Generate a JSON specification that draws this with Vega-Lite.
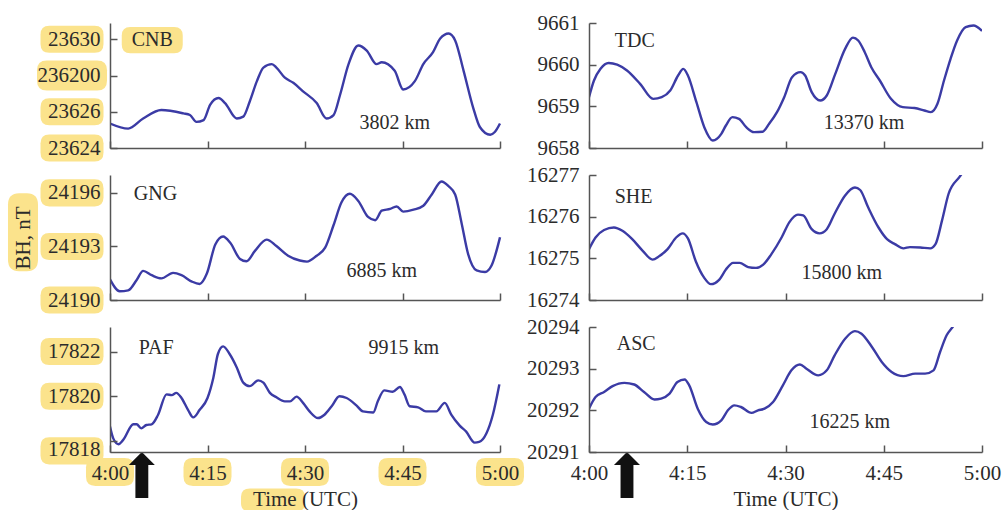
{
  "$schema": "https://vega.github.io/schema/vega-lite/v6.json",
  "background": "white",
  "padding": {"left": 7, "top": 12, "right": 5, "bottom": 0},
  "columns": 2,
  "bounds": "flush",
  "spacing": 27,
  "config": {
    "view": {"stroke": null},
    "axis": {"domainColor": "#555", "domainWidth": 1.5, "tickColor": "#555", "tickWidth": 1.5, "tickSize": -7, "labelFont": "Liberation Serif", "labelFontSize": 21, "labelColor": "#2b2b2b", "labelPadding": 17, "grid": false, "titleFont": "Liberation Serif", "titleFontSize": 21, "titleFontWeight": "normal", "titleColor": "#2b2b2b", "labelOverlap": false, "labelFlush": false},
    "text": {"font": "Liberation Serif"}
  },
  "datasets": {
    "d": [
      {"s":"CNB","t":0,"v":23625.35},{"s":"CNB","t":2.8,"v":23625.07},{"s":"CNB","t":5.1,"v":23625.63},{"s":"CNB","t":7.9,"v":23626.1},{"s":"CNB","t":11.3,"v":23625.91},{"s":"CNB","t":12.3,"v":23625.82},{"s":"CNB","t":13.3,"v":23625.44},{"s":"CNB","t":14.4,"v":23625.54},{"s":"CNB","t":15.4,"v":23626.38},{"s":"CNB","t":16.7,"v":23626.76},{"s":"CNB","t":17.7,"v":23626.48},{"s":"CNB","t":19.5,"v":23625.63},{"s":"CNB","t":20.5,"v":23625.73},{"s":"CNB","t":21.5,"v":23626.57},{"s":"CNB","t":22.6,"v":23627.69},{"s":"CNB","t":23.6,"v":23628.44},{"s":"CNB","t":24.9,"v":23628.63},{"s":"CNB","t":25.6,"v":23628.44},{"s":"CNB","t":26.9,"v":23627.88},{"s":"CNB","t":28.2,"v":23627.6},{"s":"CNB","t":29.7,"v":23627.13},{"s":"CNB","t":31.8,"v":23626.48},{"s":"CNB","t":33.3,"v":23625.63},{"s":"CNB","t":34.4,"v":23625.82},{"s":"CNB","t":35.4,"v":23626.94},{"s":"CNB","t":36.7,"v":23628.63},{"s":"CNB","t":38.2,"v":23629.66},{"s":"CNB","t":39.5,"v":23629.38},{"s":"CNB","t":41.0,"v":23628.63},{"s":"CNB","t":41.8,"v":23628.73},{"s":"CNB","t":43.8,"v":23628.26},{"s":"CNB","t":45.1,"v":23627.23},{"s":"CNB","t":46.9,"v":23627.69},{"s":"CNB","t":48.2,"v":23628.63},{"s":"CNB","t":49.7,"v":23629.29},{"s":"CNB","t":50.8,"v":23630.04},{"s":"CNB","t":52.1,"v":23630.32},{"s":"CNB","t":53.1,"v":23629.94},{"s":"CNB","t":54.4,"v":23628.26},{"s":"CNB","t":55.9,"v":23626.19},{"s":"CNB","t":56.9,"v":23625.16},{"s":"CNB","t":58.5,"v":23624.73},{"s":"CNB","t":59.2,"v":23624.88},{"s":"CNB","t":60,"v":23625.35},
      {"s":"GNG","t":0,"v":24191.16},{"s":"GNG","t":1.5,"v":24190.49},{"s":"GNG","t":2.8,"v":24190.54},{"s":"GNG","t":4.1,"v":24191.12},{"s":"GNG","t":5.1,"v":24191.63},{"s":"GNG","t":6.4,"v":24191.39},{"s":"GNG","t":7.9,"v":24191.21},{"s":"GNG","t":9.7,"v":24191.52},{"s":"GNG","t":11.0,"v":24191.39},{"s":"GNG","t":12.6,"v":24191.03},{"s":"GNG","t":13.8,"v":24190.9},{"s":"GNG","t":14.9,"v":24191.48},{"s":"GNG","t":16.2,"v":24193.11},{"s":"GNG","t":17.4,"v":24193.56},{"s":"GNG","t":18.5,"v":24193.2},{"s":"GNG","t":20.0,"v":24192.3},{"s":"GNG","t":21.0,"v":24192.17},{"s":"GNG","t":22.3,"v":24192.75},{"s":"GNG","t":24.1,"v":24193.38},{"s":"GNG","t":25.6,"v":24193.02},{"s":"GNG","t":27.4,"v":24192.48},{"s":"GNG","t":29.2,"v":24192.21},{"s":"GNG","t":30.3,"v":24192.15},{"s":"GNG","t":31.8,"v":24192.48},{"s":"GNG","t":33.1,"v":24192.93},{"s":"GNG","t":34.4,"v":24194.2},{"s":"GNG","t":35.6,"v":24195.46},{"s":"GNG","t":36.9,"v":24195.95},{"s":"GNG","t":38.2,"v":24195.55},{"s":"GNG","t":39.7,"v":24194.65},{"s":"GNG","t":40.8,"v":24194.47},{"s":"GNG","t":41.8,"v":24195.0},{"s":"GNG","t":43.1,"v":24195.1},{"s":"GNG","t":44.1,"v":24195.24},{"s":"GNG","t":45.1,"v":24194.95},{"s":"GNG","t":46.7,"v":24195.06},{"s":"GNG","t":48.2,"v":24195.28},{"s":"GNG","t":49.5,"v":24195.91},{"s":"GNG","t":51.0,"v":24196.64},{"s":"GNG","t":52.1,"v":24196.37},{"s":"GNG","t":53.1,"v":24195.91},{"s":"GNG","t":54.1,"v":24194.29},{"s":"GNG","t":55.1,"v":24192.57},{"s":"GNG","t":56.4,"v":24191.66},{"s":"GNG","t":57.7,"v":24191.57},{"s":"GNG","t":58.7,"v":24191.93},{"s":"GNG","t":60,"v":24193.51},
      {"s":"PAF","t":0,"v":17818.64},{"s":"PAF","t":0.5,"v":17818.11},{"s":"PAF","t":1.3,"v":17817.85},{"s":"PAF","t":2.0,"v":17818.03},{"s":"PAF","t":3.6,"v":17818.74},{"s":"PAF","t":4.1,"v":17818.74},{"s":"PAF","t":4.8,"v":17818.56},{"s":"PAF","t":5.6,"v":17818.71},{"s":"PAF","t":6.4,"v":17818.74},{"s":"PAF","t":7.4,"v":17819.17},{"s":"PAF","t":8.7,"v":17820.08},{"s":"PAF","t":9.5,"v":17820.05},{"s":"PAF","t":10.2,"v":17820.15},{"s":"PAF","t":11.0,"v":17819.92},{"s":"PAF","t":12.0,"v":17819.39},{"s":"PAF","t":12.8,"v":17819.05},{"s":"PAF","t":13.8,"v":17819.39},{"s":"PAF","t":15.0,"v":17819.92},{"s":"PAF","t":15.9,"v":17820.83},{"s":"PAF","t":16.6,"v":17821.89},{"s":"PAF","t":17.4,"v":17822.23},{"s":"PAF","t":18.4,"v":17821.89},{"s":"PAF","t":19.5,"v":17821.29},{"s":"PAF","t":20.5,"v":17820.61},{"s":"PAF","t":21.5,"v":17820.45},{"s":"PAF","t":22.8,"v":17820.71},{"s":"PAF","t":23.6,"v":17820.61},{"s":"PAF","t":24.6,"v":17820.15},{"s":"PAF","t":25.6,"v":17819.95},{"s":"PAF","t":26.9,"v":17819.77},{"s":"PAF","t":27.7,"v":17819.77},{"s":"PAF","t":28.7,"v":17819.98},{"s":"PAF","t":29.7,"v":17819.7},{"s":"PAF","t":30.7,"v":17819.32},{"s":"PAF","t":32.0,"v":17819.02},{"s":"PAF","t":33.0,"v":17819.17},{"s":"PAF","t":34.1,"v":17819.55},{"s":"PAF","t":35.3,"v":17820.0},{"s":"PAF","t":36.4,"v":17819.92},{"s":"PAF","t":37.9,"v":17819.59},{"s":"PAF","t":38.9,"v":17819.32},{"s":"PAF","t":40.5,"v":17819.27},{"s":"PAF","t":41.2,"v":17819.77},{"s":"PAF","t":42.2,"v":17820.26},{"s":"PAF","t":43.5,"v":17820.2},{"s":"PAF","t":44.6,"v":17820.41},{"s":"PAF","t":45.3,"v":17820.08},{"s":"PAF","t":46.1,"v":17819.55},{"s":"PAF","t":47.4,"v":17819.5},{"s":"PAF","t":48.6,"v":17819.32},{"s":"PAF","t":50.2,"v":17819.32},{"s":"PAF","t":51.5,"v":17819.7},{"s":"PAF","t":52.5,"v":17819.17},{"s":"PAF","t":53.8,"v":17818.68},{"s":"PAF","t":54.8,"v":17818.41},{"s":"PAF","t":56.1,"v":17817.92},{"s":"PAF","t":56.8,"v":17817.95},{"s":"PAF","t":57.9,"v":17818.33},{"s":"PAF","t":58.9,"v":17819.17},{"s":"PAF","t":59.9,"v":17820.53},
      {"s":"TDC","t":0,"v":9659.22},{"s":"TDC","t":0.76,"v":9659.62},{"s":"TDC","t":1.76,"v":9659.9},{"s":"TDC","t":3.0,"v":9660.04},{"s":"TDC","t":4.3,"v":9660.0},{"s":"TDC","t":5.8,"v":9659.86},{"s":"TDC","t":7.8,"v":9659.54},{"s":"TDC","t":9.8,"v":9659.18},{"s":"TDC","t":11.1,"v":9659.22},{"s":"TDC","t":12.4,"v":9659.38},{"s":"TDC","t":13.6,"v":9659.74},{"s":"TDC","t":14.4,"v":9659.9},{"s":"TDC","t":15.1,"v":9659.74},{"s":"TDC","t":16.4,"v":9659.1},{"s":"TDC","t":17.6,"v":9658.5},{"s":"TDC","t":18.9,"v":9658.18},{"s":"TDC","t":20.2,"v":9658.34},{"s":"TDC","t":20.9,"v":9658.54},{"s":"TDC","t":21.9,"v":9658.74},{"s":"TDC","t":22.9,"v":9658.7},{"s":"TDC","t":24.0,"v":9658.5},{"s":"TDC","t":25.2,"v":9658.38},{"s":"TDC","t":26.5,"v":9658.39},{"s":"TDC","t":27.5,"v":9658.58},{"s":"TDC","t":28.7,"v":9658.86},{"s":"TDC","t":29.8,"v":9659.22},{"s":"TDC","t":31.0,"v":9659.7},{"s":"TDC","t":32.3,"v":9659.82},{"s":"TDC","t":33.0,"v":9659.74},{"s":"TDC","t":34.0,"v":9659.34},{"s":"TDC","t":35.3,"v":9659.14},{"s":"TDC","t":36.3,"v":9659.26},{"s":"TDC","t":37.6,"v":9659.78},{"s":"TDC","t":39.1,"v":9660.38},{"s":"TDC","t":40.3,"v":9660.65},{"s":"TDC","t":41.1,"v":9660.58},{"s":"TDC","t":42.1,"v":9660.3},{"s":"TDC","t":43.1,"v":9659.94},{"s":"TDC","t":44.4,"v":9659.62},{"s":"TDC","t":46.1,"v":9659.18},{"s":"TDC","t":47.9,"v":9658.98},{"s":"TDC","t":49.7,"v":9658.96},{"s":"TDC","t":51.2,"v":9658.9},{"s":"TDC","t":52.2,"v":9658.86},{"s":"TDC","t":53.2,"v":9659.06},{"s":"TDC","t":54.2,"v":9659.62},{"s":"TDC","t":55.2,"v":9660.14},{"s":"TDC","t":56.2,"v":9660.58},{"s":"TDC","t":57.5,"v":9660.9},{"s":"TDC","t":58.7,"v":9660.94},{"s":"TDC","t":60,"v":9660.81},
      {"s":"SHE","t":0,"v":16275.22},{"s":"SHE","t":1.0,"v":16275.5},{"s":"SHE","t":2.3,"v":16275.68},{"s":"SHE","t":3.8,"v":16275.74},{"s":"SHE","t":5.1,"v":16275.66},{"s":"SHE","t":6.6,"v":16275.46},{"s":"SHE","t":8.2,"v":16275.18},{"s":"SHE","t":9.7,"v":16274.97},{"s":"SHE","t":10.7,"v":16275.05},{"s":"SHE","t":12.0,"v":16275.22},{"s":"SHE","t":13.3,"v":16275.5},{"s":"SHE","t":14.3,"v":16275.6},{"s":"SHE","t":15.1,"v":16275.48},{"s":"SHE","t":16.3,"v":16274.93},{"s":"SHE","t":17.6,"v":16274.53},{"s":"SHE","t":18.6,"v":16274.38},{"s":"SHE","t":19.9,"v":16274.49},{"s":"SHE","t":20.9,"v":16274.73},{"s":"SHE","t":22.0,"v":16274.89},{"s":"SHE","t":23.0,"v":16274.89},{"s":"SHE","t":24.3,"v":16274.79},{"s":"SHE","t":25.5,"v":16274.77},{"s":"SHE","t":26.6,"v":16274.85},{"s":"SHE","t":27.8,"v":16275.09},{"s":"SHE","t":29.4,"v":16275.5},{"s":"SHE","t":30.6,"v":16275.87},{"s":"SHE","t":31.9,"v":16276.05},{"s":"SHE","t":32.7,"v":16276.03},{"s":"SHE","t":34.0,"v":16275.7},{"s":"SHE","t":35.2,"v":16275.6},{"s":"SHE","t":36.3,"v":16275.7},{"s":"SHE","t":37.5,"v":16276.07},{"s":"SHE","t":39.1,"v":16276.51},{"s":"SHE","t":40.6,"v":16276.7},{"s":"SHE","t":41.4,"v":16276.64},{"s":"SHE","t":42.6,"v":16276.23},{"s":"SHE","t":44.2,"v":16275.74},{"s":"SHE","t":45.5,"v":16275.46},{"s":"SHE","t":46.7,"v":16275.34},{"s":"SHE","t":48.0,"v":16275.24},{"s":"SHE","t":49.0,"v":16275.27},{"s":"SHE","t":50.6,"v":16275.26},{"s":"SHE","t":52.1,"v":16275.24},{"s":"SHE","t":52.9,"v":16275.34},{"s":"SHE","t":53.9,"v":16275.91},{"s":"SHE","t":54.9,"v":16276.55},{"s":"SHE","t":56.6,"v":16276.96},{"s":"SHE","t":57.5,"v":16277.16},
      {"s":"ASC","t":0,"v":20292.04},{"s":"ASC","t":1.0,"v":20292.32},{"s":"ASC","t":2.3,"v":20292.44},{"s":"ASC","t":3.6,"v":20292.58},{"s":"ASC","t":5.4,"v":20292.66},{"s":"ASC","t":6.9,"v":20292.62},{"s":"ASC","t":8.4,"v":20292.44},{"s":"ASC","t":10.0,"v":20292.26},{"s":"ASC","t":11.0,"v":20292.28},{"s":"ASC","t":12.3,"v":20292.4},{"s":"ASC","t":13.5,"v":20292.68},{"s":"ASC","t":14.6,"v":20292.74},{"s":"ASC","t":15.3,"v":20292.6},{"s":"ASC","t":16.6,"v":20292.04},{"s":"ASC","t":17.9,"v":20291.72},{"s":"ASC","t":18.9,"v":20291.66},{"s":"ASC","t":20.2,"v":20291.76},{"s":"ASC","t":21.2,"v":20292.0},{"s":"ASC","t":22.2,"v":20292.12},{"s":"ASC","t":23.2,"v":20292.08},{"s":"ASC","t":24.8,"v":20291.94},{"s":"ASC","t":25.8,"v":20292.0},{"s":"ASC","t":26.8,"v":20292.04},{"s":"ASC","t":28.1,"v":20292.2},{"s":"ASC","t":29.6,"v":20292.6},{"s":"ASC","t":30.9,"v":20292.96},{"s":"ASC","t":32.2,"v":20293.1},{"s":"ASC","t":33.2,"v":20293.0},{"s":"ASC","t":35.0,"v":20292.84},{"s":"ASC","t":36.3,"v":20292.96},{"s":"ASC","t":37.5,"v":20293.32},{"s":"ASC","t":39.1,"v":20293.72},{"s":"ASC","t":40.6,"v":20293.9},{"s":"ASC","t":41.6,"v":20293.84},{"s":"ASC","t":43.2,"v":20293.52},{"s":"ASC","t":44.7,"v":20293.16},{"s":"ASC","t":46.2,"v":20292.92},{"s":"ASC","t":48.0,"v":20292.82},{"s":"ASC","t":49.8,"v":20292.88},{"s":"ASC","t":51.3,"v":20292.88},{"s":"ASC","t":52.6,"v":20292.96},{"s":"ASC","t":53.6,"v":20293.4},{"s":"ASC","t":54.6,"v":20293.8},{"s":"ASC","t":55.7,"v":20294.04},{"s":"ASC","t":56.4,"v":20294.24}
    ],
    "lab": [
      {"s":"CNB","t":6.5,"v":23629.95,"text":"CNB"},
      {"s":"CNB","t":43.8,"v":23625.4,"text":"3802 km"},
      {"s":"GNG","t":7.0,"v":24195.94,"text":"GNG"},
      {"s":"GNG","t":41.8,"v":24191.62,"text":"6885 km"},
      {"s":"PAF","t":7.1,"v":17822.14,"text":"PAF"},
      {"s":"PAF","t":45.2,"v":17822.14,"text":"9915 km"},
      {"s":"TDC","t":7.0,"v":9660.57,"text":"TDC"},
      {"s":"TDC","t":42.0,"v":9658.61,"text":"13370 km"},
      {"s":"SHE","t":6.8,"v":16276.47,"text":"SHE"},
      {"s":"SHE","t":38.6,"v":16274.66,"text":"15800 km"},
      {"s":"ASC","t":7.2,"v":20293.6,"text":"ASC"},
      {"s":"ASC","t":39.8,"v":20291.72,"text":"16225 km"}
    ],
    "hy": [
      {"s":"CNB","v":23624},{"s":"CNB","v":23626},{"s":"CNB","v":23628},{"s":"CNB","v":23630},
      {"s":"GNG","v":24190},{"s":"GNG","v":24193},{"s":"GNG","v":24196},
      {"s":"PAF","v":17817.55},{"s":"PAF","v":17820},{"s":"PAF","v":17822}
    ],
    "hx": [{"t":0},{"t":15},{"t":30},{"t":45},{"t":60}],
    "arr": [{"s":"PAF","t":4.9,"v":17817.5},{"s":"ASC","t":5.8,"v":20291}]
  },
  "concat": [
    {
      "width": 452, "height": 125,
      "layer": [
        {"data": {"name": "hy"}, "transform": [{"filter": "datum.s=='CNB'"}],
         "mark": {"type": "point", "shape": "M-0.72,-0.43L0.72,-0.43Q1,-0.43 1,-0.15L1,0.15Q1,0.43 0.72,0.43L-0.72,0.43Q-1,0.43 -1,0.15L-1,-0.15Q-1,-0.43 -0.72,-0.43Z", "filled": true, "color": "#FBE38C", "opacity": 1, "xOffset": -38},
         "encoding": {"x": {"datum": 0, "type": "quantitative", "scale": {"domain": [0, 60], "range": [0, 390], "nice": false, "zero": false}},
                      "y": {"field": "v", "type": "quantitative", "scale": {"domain": [23624, 23630.9], "nice": false, "zero": false}},
                      "size": {"condition": {"test": "datum.v==23628", "value": 4900}, "value": 3969}}},
        {"data": {"name": "lab"}, "transform": [{"filter": "datum.text=='CNB'"}],
         "mark": {"type": "point", "shape": "M-0.72,-0.43L0.72,-0.43Q1,-0.43 1,-0.15L1,0.15Q1,0.43 0.72,0.43L-0.72,0.43Q-1,0.43 -1,0.15L-1,-0.15Q-1,-0.43 -0.72,-0.43Z", "filled": true, "color": "#FBE38C", "opacity": 1, "size": 3721},
         "encoding": {"x": {"field": "t", "type": "quantitative"}, "y": {"field": "v", "type": "quantitative"}}},
        {"data": {"name": "d"}, "transform": [{"filter": "datum.s=='CNB'"}],
         "mark": {"type": "line", "color": "#3b3ba5", "strokeWidth": 2.4, "interpolate": "monotone", "clip": true},
         "encoding": {"x": {"field": "t", "type": "quantitative", "scale": {"domain": [0, 60], "range": [0, 390], "nice": false, "zero": false}, "axis": {"values": [0, 15, 30, 45, 60], "labels": false, "title": null, "zindex": 1}},
                      "y": {"field": "v", "type": "quantitative", "scale": {"domain": [23624, 23630.9], "nice": false, "zero": false}, "axis": {"values": [23624, 23626, 23628, 23630], "format": "d", "labelExpr": "datum.value==23628?'236200':datum.label", "title": null, "zindex": 1}}}},
        {"data": {"name": "lab"}, "transform": [{"filter": "datum.s=='CNB'"}],
         "mark": {"type": "text", "fontSize": 20, "color": "#2b2b2b", "align": "center", "baseline": "middle"},
         "encoding": {"x": {"field": "t", "type": "quantitative"}, "y": {"field": "v", "type": "quantitative"}, "text": {"field": "text"}}}
      ]
    },
    {
      "width": 393, "height": 125,
      "layer": [
        {"data": {"name": "d"}, "transform": [{"filter": "datum.s=='TDC'"}],
         "mark": {"type": "line", "color": "#3b3ba5", "strokeWidth": 2.4, "interpolate": "monotone", "clip": true},
         "encoding": {"x": {"field": "t", "type": "quantitative", "scale": {"domain": [0, 60], "nice": false, "zero": false}, "axis": {"values": [0, 15, 30, 45, 60], "labels": false, "title": null, "zindex": 1}},
                      "y": {"field": "v", "type": "quantitative", "scale": {"domain": [9658, 9661], "nice": false, "zero": false}, "axis": {"values": [9658, 9659, 9660, 9661], "format": "d", "title": null, "zindex": 1}}}},
        {"data": {"name": "lab"}, "transform": [{"filter": "datum.s=='TDC'"}],
         "mark": {"type": "text", "fontSize": 20, "color": "#2b2b2b", "align": "center", "baseline": "middle"},
         "encoding": {"x": {"field": "t", "type": "quantitative"}, "y": {"field": "v", "type": "quantitative"}, "text": {"field": "text"}}}
      ]
    },
    {
      "width": 452, "height": 125,
      "layer": [
        {"data": {"name": "hy"}, "transform": [{"filter": "datum.s=='GNG'"}],
         "mark": {"type": "point", "shape": "M-0.72,-0.43L0.72,-0.43Q1,-0.43 1,-0.15L1,0.15Q1,0.43 0.72,0.43L-0.72,0.43Q-1,0.43 -1,0.15L-1,-0.15Q-1,-0.43 -0.72,-0.43Z", "filled": true, "color": "#FBE38C", "opacity": 1, "xOffset": -38, "size": 3969},
         "encoding": {"x": {"datum": 0, "type": "quantitative", "scale": {"domain": [0, 60], "range": [0, 390], "nice": false, "zero": false}},
                      "y": {"field": "v", "type": "quantitative", "scale": {"domain": [24190, 24197], "nice": false, "zero": false}}}},
        {"data": {"name": "hx"}, "transform": [{"filter": "datum.t==0"}],
         "mark": {"type": "point", "shape": "M-0.385,-0.7Q-0.385,-1 -0.1,-1L0.1,-1Q0.385,-1 0.385,-0.7L0.385,0.7Q0.385,1 0.1,1L-0.1,1Q-0.385,1 -0.385,0.7Z", "filled": true, "color": "#FBE38C", "opacity": 1, "xOffset": -87, "size": 6084},
         "encoding": {"x": {"field": "t", "type": "quantitative"}, "y": {"datum": 24193.8, "type": "quantitative"}}},
        {"data": {"name": "d"}, "transform": [{"filter": "datum.s=='GNG'"}],
         "mark": {"type": "line", "color": "#3b3ba5", "strokeWidth": 2.4, "interpolate": "monotone", "clip": true},
         "encoding": {"x": {"field": "t", "type": "quantitative", "scale": {"domain": [0, 60], "range": [0, 390], "nice": false, "zero": false}, "axis": {"values": [0, 15, 30, 45, 60], "labels": false, "title": null, "zindex": 1}},
                      "y": {"field": "v", "type": "quantitative", "scale": {"domain": [24190, 24197], "nice": false, "zero": false}, "axis": {"values": [24190, 24193, 24196], "format": "d", "title": "BH, nT", "titlePadding": 14, "zindex": 1}}}},
        {"data": {"name": "lab"}, "transform": [{"filter": "datum.s=='GNG'"}],
         "mark": {"type": "text", "fontSize": 20, "color": "#2b2b2b", "align": "center", "baseline": "middle"},
         "encoding": {"x": {"field": "t", "type": "quantitative"}, "y": {"field": "v", "type": "quantitative"}, "text": {"field": "text"}}}
      ]
    },
    {
      "width": 393, "height": 125,
      "layer": [
        {"data": {"name": "d"}, "transform": [{"filter": "datum.s=='SHE'"}],
         "mark": {"type": "line", "color": "#3b3ba5", "strokeWidth": 2.4, "interpolate": "monotone", "clip": true},
         "encoding": {"x": {"field": "t", "type": "quantitative", "scale": {"domain": [0, 60], "nice": false, "zero": false}, "axis": {"values": [0, 15, 30, 45, 60], "labels": false, "title": null, "zindex": 1}},
                      "y": {"field": "v", "type": "quantitative", "scale": {"domain": [16274, 16277], "nice": false, "zero": false}, "axis": {"values": [16274, 16275, 16276, 16277], "format": "d", "title": null, "zindex": 1}}}},
        {"data": {"name": "lab"}, "transform": [{"filter": "datum.s=='SHE'"}],
         "mark": {"type": "text", "fontSize": 20, "color": "#2b2b2b", "align": "center", "baseline": "middle"},
         "encoding": {"x": {"field": "t", "type": "quantitative"}, "y": {"field": "v", "type": "quantitative"}, "text": {"field": "text"}}}
      ]
    },
    {
      "width": 452, "height": 125,
      "layer": [
        {"data": {"name": "hy"}, "transform": [{"filter": "datum.s=='PAF'"}],
         "mark": {"type": "point", "shape": "M-0.72,-0.43L0.72,-0.43Q1,-0.43 1,-0.15L1,0.15Q1,0.43 0.72,0.43L-0.72,0.43Q-1,0.43 -1,0.15L-1,-0.15Q-1,-0.43 -0.72,-0.43Z", "filled": true, "color": "#FBE38C", "opacity": 1, "xOffset": -38, "size": 3969},
         "encoding": {"x": {"datum": 0, "type": "quantitative", "scale": {"domain": [0, 60], "range": [0, 390], "nice": false, "zero": false}},
                      "y": {"field": "v", "type": "quantitative", "scale": {"domain": [17817.5, 17823.1], "nice": false, "zero": false}}}},
        {"data": {"name": "hx"},
         "mark": {"type": "point", "shape": "M-0.6,-0.58L0.6,-0.58Q1,-0.58 1,-0.2L1,0.2Q1,0.58 0.6,0.58L-0.6,0.58Q-1,0.58 -1,0.2L-1,-0.2Q-1,-0.58 -0.6,-0.58Z", "filled": true, "color": "#FBE38C", "opacity": 1, "yOffset": 20, "size": 2304},
         "encoding": {"x": {"field": "t", "type": "quantitative"}, "y": {"datum": 17817.5, "type": "quantitative"}}},
        {"data": {"name": "hx"}, "transform": [{"filter": "datum.t==0"}],
         "mark": {"type": "point", "shape": "M-0.72,-0.36L0.72,-0.36Q1,-0.36 1,-0.1L1,0.1Q1,0.36 0.72,0.36L-0.72,0.36Q-1,0.36 -1,0.1L-1,-0.1Q-1,-0.36 -0.72,-0.36Z", "filled": true, "color": "#FBE38C", "opacity": 1, "yOffset": 48, "xOffset": 163, "size": 4096},
         "encoding": {"x": {"field": "t", "type": "quantitative"}, "y": {"datum": 17817.5, "type": "quantitative"}}},
        {"data": {"name": "d"}, "transform": [{"filter": "datum.s=='PAF'"}],
         "mark": {"type": "line", "color": "#3b3ba5", "strokeWidth": 2.4, "interpolate": "monotone", "clip": true},
         "encoding": {"x": {"field": "t", "type": "quantitative", "scale": {"domain": [0, 60], "range": [0, 390], "nice": false, "zero": false}, "axis": {"values": [0, 15, 30, 45, 60], "labelExpr": "datum.value==0?'4:00':datum.value==60?'5:00':'4:'+datum.value", "title": "Time (UTC)", "titlePadding": 5, "zindex": 1}},
                      "y": {"field": "v", "type": "quantitative", "scale": {"domain": [17817.5, 17823.1], "nice": false, "zero": false}, "axis": {"values": [17818, 17820, 17822], "format": "d", "title": null, "zindex": 1, "labelOffset": {"condition": {"test": "datum.value==17818", "value": 9}, "value": 0}}}}},
        {"data": {"name": "lab"}, "transform": [{"filter": "datum.s=='PAF'"}],
         "mark": {"type": "text", "fontSize": 20, "color": "#2b2b2b", "align": "center", "baseline": "middle"},
         "encoding": {"x": {"field": "t", "type": "quantitative"}, "y": {"field": "v", "type": "quantitative"}, "text": {"field": "text"}}},
        {"data": {"name": "arr"}, "transform": [{"filter": "datum.s=='PAF'"}],
         "mark": {"type": "point", "shape": "M0,-1L0.565,-0.43L0.28,-0.43L0.28,1L-0.28,1L-0.28,-0.43L-0.565,-0.43Z", "filled": true, "color": "#111111", "opacity": 1, "size": 2116, "yOffset": 23},
         "encoding": {"x": {"field": "t", "type": "quantitative"}, "y": {"field": "v", "type": "quantitative"}}}
      ]
    },
    {
      "width": 393, "height": 125,
      "layer": [
        {"data": {"name": "d"}, "transform": [{"filter": "datum.s=='ASC'"}],
         "mark": {"type": "line", "color": "#3b3ba5", "strokeWidth": 2.4, "interpolate": "monotone", "clip": true},
         "encoding": {"x": {"field": "t", "type": "quantitative", "scale": {"domain": [0, 60], "nice": false, "zero": false}, "axis": {"values": [0, 15, 30, 45, 60], "labelExpr": "datum.value==0?'4:00':datum.value==60?'5:00':'4:'+datum.value", "title": "Time (UTC)", "titlePadding": 5, "zindex": 1}},
                      "y": {"field": "v", "type": "quantitative", "scale": {"domain": [20291, 20294], "nice": false, "zero": false}, "axis": {"values": [20291, 20292, 20293, 20294], "format": "d", "title": null, "zindex": 1}}}},
        {"data": {"name": "lab"}, "transform": [{"filter": "datum.s=='ASC'"}],
         "mark": {"type": "text", "fontSize": 20, "color": "#2b2b2b", "align": "center", "baseline": "middle"},
         "encoding": {"x": {"field": "t", "type": "quantitative"}, "y": {"field": "v", "type": "quantitative"}, "text": {"field": "text"}}},
        {"data": {"name": "arr"}, "transform": [{"filter": "datum.s=='ASC'"}],
         "mark": {"type": "point", "shape": "M0,-1L0.565,-0.43L0.28,-0.43L0.28,1L-0.28,1L-0.28,-0.43L-0.565,-0.43Z", "filled": true, "color": "#111111", "opacity": 1, "size": 2116, "yOffset": 23},
         "encoding": {"x": {"field": "t", "type": "quantitative"}, "y": {"field": "v", "type": "quantitative"}}}
      ]
    }
  ]
}
